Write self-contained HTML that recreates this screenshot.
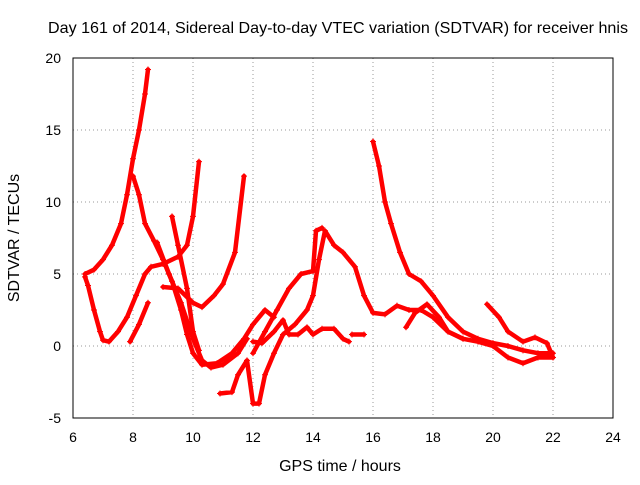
<!DOCTYPE html>
<html><head><meta charset="utf-8"><style>
body{margin:0;background:#fff}
svg text{font-family:"Liberation Sans",sans-serif;font-size:14px;fill:#000}
</style></head><body>
<svg id="chart" width="640" height="480" xmlns="http://www.w3.org/2000/svg">
<rect width="640" height="480" fill="#fff"/>
<text x="338" y="33" text-anchor="middle" style="font-size:16px" textLength="580" lengthAdjust="spacingAndGlyphs">Day 161 of 2014, Sidereal Day-to-day VTEC variation (SDTVAR) for receiver hnis</text>
<g id="grid"></g>
<g id="ticks"></g>
<g id="series"></g>
<rect x="73" y="58" width="540" height="360" fill="none" stroke="#000" stroke-width="1"/>
<text x="340" y="471" text-anchor="middle" style="font-size:16px">GPS time / hours</text>
<text transform="translate(19,238) rotate(-90)" text-anchor="middle" style="font-size:16px">SDTVAR / TECUs</text>
</svg>
<script>
const xTicks=[6,8,10,12,14,16,18,20,22,24];
const yTicks=[-5,0,5,10,15,20];
const s1=[[6.4,5],[6.7,5.3],[7.0,6],[7.3,7],[7.6,8.5],[7.8,10.5],[8.0,13],[8.2,15],[8.4,17.5],[8.5,19.2]];
const s2=[[6.4,4.8],[6.5,4.2],[6.7,2.5],[6.9,1],[7.0,0.4],[7.2,0.3],[7.5,1],[7.8,2],[8.1,3.5],[8.4,5],[8.6,5.5],[9.0,5.7],[9.5,6.2],[9.8,7],[10.0,9],[10.2,12.8]];
const s3=[[8.0,11.8],[8.2,10.5],[8.4,8.5],[8.7,7.3],[9.0,6],[9.3,4.5],[9.6,2.5],[9.8,0.8],[10.0,-0.5],[10.3,-1.3],[10.8,-1.2],[11.3,-0.5],[11.7,0.5],[12.0,1.5],[12.4,2.5],[12.7,2]];
const s4=[[7.9,0.3],[8.2,1.5],[8.5,3]];
const s5=[[9.3,9],[9.5,7],[9.8,4],[10.0,1],[10.2,-0.3]];
const s6=[[8.8,7.2],[9.2,5],[9.6,3],[10.0,0.5],[10.3,-1],[10.6,-1.5],[11.0,-1.3],[11.5,-0.5],[11.8,0.5]];
const s7=[[9.0,4.1],[9.5,4],[10.0,3],[10.3,2.7],[10.7,3.5],[11.0,4.3],[11.4,6.5],[11.7,11.8]];
const s8=[[10.9,-3.3],[11.3,-3.2],[11.5,-2],[11.8,-1],[12.0,-4],[12.2,-4],[12.4,-2],[12.7,-0.5],[13.0,0.8],[13.4,1.5],[13.8,2.5],[14.0,3.5],[14.2,6],[14.4,8],[14.7,7],[15.0,6.5],[15.4,5.5],[15.7,3.5],[16.0,2.3],[16.4,2.2],[16.8,2.8],[17.2,2.5],[17.6,2.5],[18.0,2],[18.5,1],[19.0,0.5],[19.5,0.3],[20.0,0],[20.5,-0.8],[21.0,-1.2],[21.5,-0.8],[22.0,-0.8]];
const s9=[[12.0,-0.5],[12.4,1],[12.8,2.5],[13.2,4],[13.6,5],[14.0,5.2],[14.1,8],[14.3,8.2]];
const s10=[[12.0,0.3],[12.3,0.2],[12.7,1],[13.0,1.8],[13.2,0.8],[13.5,0.8],[13.8,1.3],[14.0,0.8],[14.3,1.2],[14.7,1.2],[15.0,0.5],[15.2,0.3]];
const s11=[[15.3,0.8],[15.7,0.8]];
const s12=[[16.0,14.2],[16.2,12.5],[16.4,10],[16.6,8.5],[16.9,6.5],[17.2,5],[17.6,4.5],[18.0,3.5],[18.5,2],[19.0,1],[19.5,0.5],[20.0,0.2],[20.5,0],[21.0,-0.3],[21.5,-0.5],[22.0,-0.5]];
const s13=[[17.1,1.3],[17.4,2.3],[17.8,2.9],[18.2,2],[18.5,1],[19.0,0.5]];
const s14=[[19.8,2.9],[20.2,2],[20.5,1],[21.0,0.3],[21.4,0.6],[21.8,0.2],[22.0,-0.8]];
const allSeries=[s1,s2,s3,s4,s5,s6,s7,s8,s9,s10,s11,s12,s13,s14];
const NS="http://www.w3.org/2000/svg";
const X=v=>73+(v-6)/18*540, Y=v=>418-(v+5)/25*360;
const grid=document.getElementById('grid'), ticks=document.getElementById('ticks'), ser=document.getElementById('series');
function mk(tag,attrs,parent){const e=document.createElementNS(NS,tag);for(const k in attrs)e.setAttribute(k,attrs[k]);parent.appendChild(e);return e;}
xTicks.forEach(t=>{
 if(t>6&&t<24){const g=mk('line',{x1:X(t),x2:X(t),y1:58,y2:418,stroke:'#999','stroke-dasharray':'1,3'},grid);
 
 }
 const l=mk('text',{x:X(t),y:442,'text-anchor':'middle'},ticks);l.textContent=t;
 
 
});
yTicks.forEach(t=>{
 if(t>-5&&t<20){const g=mk('line',{x1:73,x2:613,y1:Y(t),y2:Y(t),stroke:'#999','stroke-dasharray':'1,3'},grid);
 
 }
 const l=mk('text',{x:61,y:Y(t)+5,'text-anchor':'end'},ticks);l.textContent=t;
 
 
});
allSeries.forEach((s,i)=>{
 const p=mk('polyline',{points:s.map(d=>X(d[0])+','+Y(d[1])).join(' '),fill:'none',stroke:'#f00','stroke-width':4.5,'stroke-linejoin':'round','stroke-linecap':'round'},ser);
 
 
 s.forEach(d=>{const m=mk('path',{d:`M${X(d[0])-3},${Y(d[1])}h6M${X(d[0])},${Y(d[1])-3}v6`,stroke:'#f00','stroke-width':1},ser);
 
 });
});
</script>
</body></html>
